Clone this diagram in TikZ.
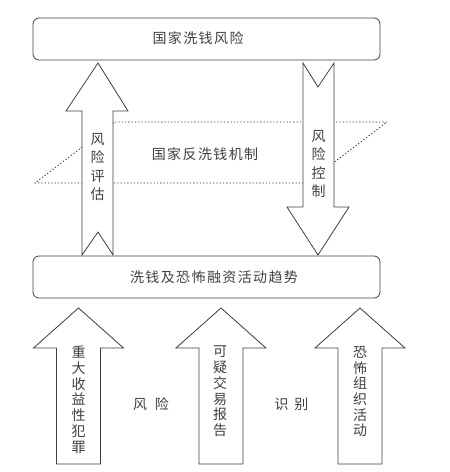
\documentclass[tikz,border=0pt]{standalone}
\usepackage{fontspec}
\newfontfamily\cjk[LetterSpace=10]{Noto Sans CJK SC}
\begin{document}
\begin{tikzpicture}[x=1pt,y=-1pt,
  ln/.style={draw=black!75, line width=0.8pt},
  box/.style={ln, rounded corners=6pt, minimum width=347pt, minimum height=42pt, inner sep=0pt},
  blockarrow/.style={ln, fill=white, line join=miter},
  txt/.style={font=\cjk\fontsize{14}{16}\selectfont, text=black!75, inner sep=0pt},
  vtxt/.style={txt, align=center, font=\cjk\fontsize{14}{15.7}\selectfont},
  vtxtb/.style={txt, align=center, font=\cjk\fontsize{14}{18.2}\selectfont},
  dots/.style={draw=black!80, line width=0.8pt, dash pattern=on 1.3pt off 2pt}]
\useasboundingbox (0,0) rectangle (450,472);

% boxes
\node[box] (top) at (206.5,39) {};
\node[txt] (toptext) at (198,38.5) {国家洗钱风险};
\node[box] (low) at (206.5,277) {};
\node[txt] (lowtext) at (214,277.5) {洗钱及恐怖融资活动趋势};

% dotted plane
\draw[dots] (115,122) -- (387,122) -- (307,183) -- (35,183) -- cycle;
\node[txt] (mech) at (205,154) {国家反洗钱机制};

% left up arrow (risk assessment)
\draw[blockarrow] (98,63) -- (128,111) -- (113,111) -- (113,255) -- (98,232)
  -- (82,255) -- (82,111) -- (66,111) -- cycle;
\node[vtxtb] (assess) at (97.5,167) {风\\险\\评\\估};

% right down arrow (risk control)
\draw[blockarrow] (303,63) -- (318,87) -- (334,63) -- (334,207) -- (349,207)
  -- (318,255) -- (287,207) -- (303,207) -- cycle;
\node[vtxtb] (control) at (318.5,164) {风\\险\\控\\制};

% bottom up arrows
\foreach \cx/\nm in {78.5/a, 221/b, 360/c}{
  \draw[blockarrow] (\cx,308) -- (\cx+45,348) -- (\cx+22,348) -- (\cx+22,464)
    -- (\cx-22,464) -- (\cx-22,348) -- (\cx-45,348) -- cycle;
}
\node[vtxt, anchor=north] (crime) at (78.5,346) {重\\大\\收\\益\\性\\犯\\罪};
\node[vtxt, anchor=north] (str) at (220,346) {可\\疑\\交\\易\\报\\告};
\node[vtxt, anchor=north] (terror) at (360,346) {恐\\怖\\组\\织\\活\\动};

\node[txt] (risk) at (151,404) {风\hspace{8pt}险};
\node[txt] (ident) at (291.5,404) {识\hspace{6pt}别};
\end{tikzpicture}
\end{document}
